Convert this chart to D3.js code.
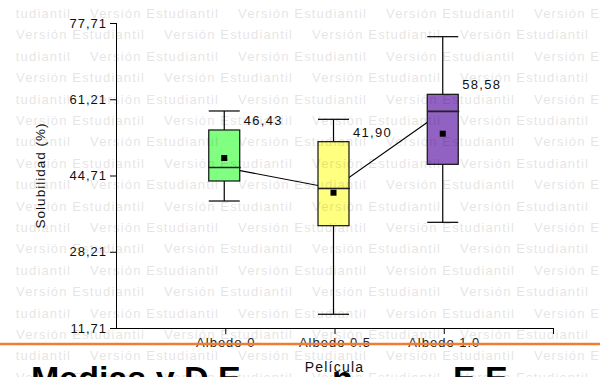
<!DOCTYPE html>
<html>
<head>
<meta charset="utf-8">
<script src="https://d3js.org/d3.v7.min.js"></script>
<style>
  body { margin: 0; background: #fff; }
  text { font-family: Arial, "Liberation Sans", sans-serif; }
</style>
</head>
<body>
<div id="chart"></div>
<script>
var width = 600, height = 377;

// data
var categories = ["Albedo 0", "Albedo 0.5", "Albedo 1.0"];
var medians = [46.43, 41.90, 58.58];
var q1 = [43.52, 33.85, 47.13];
var q3 = [54.56, 52.03, 62.28];
var whiskerLow = [39.19, 14.68, 34.58];
var whiskerHigh = [58.67, 56.87, 74.75];
var means = [48.50, 40.99, 53.76];
var yTicks = [11.71, 28.21, 44.71, 61.21, 77.71];
var boxColors = ["#80ff80", "#ffff80", "#9162c2"];

var svg = d3.select("#chart").append("svg")
  .attr("width", width).attr("height", height);

var y = d3.scaleLinear().domain([11.71, 77.71]).range([328, 23]);
var x = d3.scaleLinear().domain([0, 4]).range([116, 553]);
var boxW = 31;

var boxes = categories.map(function(c, i) {
  return { name: c, pos: i + 1, med: medians[i], lo: q1[i], hi: q3[i],
           wl: whiskerLow[i], wh: whiskerHigh[i], mean: means[i], color: boxColors[i] };
});

// y axis
var yAxis = svg.append("g").attr("transform", "translate(116,0)")
  .call(d3.axisLeft(y).tickValues(yTicks).tickSize(6).tickPadding(3)
    .tickFormat(function(d) { return d.toFixed(2).replace(".", ","); }));
yAxis.select(".domain").attr("d", "M0.5," + y(11.71) + "V" + y(77.71)).attr("stroke", "#000");
yAxis.selectAll(".tick line").attr("stroke", "#000");
yAxis.selectAll(".tick text").attr("font-size", 13).attr("fill", "#111")
  .attr("letter-spacing", 1).attr("font-family", "Arial, 'Liberation Sans', sans-serif");

// x axis
var xAxis = svg.append("g").attr("transform", "translate(0,328)")
  .call(d3.axisBottom(x).tickValues([1, 2, 3, 4]).tickSize(6).tickPadding(4)
    .tickFormat(function(d) { return categories[d - 1] || ""; }));
xAxis.select(".domain").attr("d", "M116,0.5H553").attr("stroke", "#000");
xAxis.selectAll(".tick line").attr("stroke", "#000");
xAxis.selectAll(".tick text").attr("font-size", 13).attr("fill", "#222")
  .attr("letter-spacing", 1).attr("font-family", "Arial, 'Liberation Sans', sans-serif");

// axis titles
svg.append("text")
  .attr("transform", "translate(45," + ((y(11.71) + y(77.71)) / 2) + ") rotate(-90)")
  .attr("text-anchor", "middle").attr("font-size", 13.5).attr("letter-spacing", 1)
  .attr("fill", "#111").text("Solubilidad (%)");

svg.append("text").attr("x", x(2)).attr("y", 372)
  .attr("text-anchor", "middle").attr("font-size", 14).attr("letter-spacing", 1.2)
  .attr("fill", "#111").text("Película");

// line joining medians
svg.append("path")
  .attr("d", d3.line().x(function(d) { return x(d.pos) - 1; }).y(function(d) { return y(d.med); })(boxes))
  .attr("fill", "none").attr("stroke", "#000").attr("stroke-width", 1.2);

var g = svg.selectAll(".box").data(boxes).enter().append("g").attr("class", "box");

// whiskers
g.append("line")
  .attr("x1", function(d) { return x(d.pos) - 1; }).attr("x2", function(d) { return x(d.pos) - 1; })
  .attr("y1", function(d) { return y(d.wh); }).attr("y2", function(d) { return y(d.wl); })
  .attr("stroke", "#000").attr("stroke-width", 1.2);
g.append("line")
  .attr("x1", function(d) { return x(d.pos) - 1 - boxW / 2; }).attr("x2", function(d) { return x(d.pos) - 1 + boxW / 2; })
  .attr("y1", function(d) { return y(d.wh); }).attr("y2", function(d) { return y(d.wh); })
  .attr("stroke", "#000").attr("stroke-width", 1.2);
g.append("line")
  .attr("x1", function(d) { return x(d.pos) - 1 - boxW / 2; }).attr("x2", function(d) { return x(d.pos) - 1 + boxW / 2; })
  .attr("y1", function(d) { return y(d.wl); }).attr("y2", function(d) { return y(d.wl); })
  .attr("stroke", "#000").attr("stroke-width", 1.2);

// boxes
g.append("rect")
  .attr("x", function(d) { return x(d.pos) - 1 - boxW / 2; })
  .attr("y", function(d) { return y(d.hi); })
  .attr("width", boxW)
  .attr("height", function(d) { return y(d.lo) - y(d.hi); })
  .attr("fill", function(d) { return d.color; })
  .attr("stroke", "#111").attr("stroke-width", 1.2);

// medians
g.append("line")
  .attr("x1", function(d) { return x(d.pos) - 1 - boxW / 2; }).attr("x2", function(d) { return x(d.pos) - 1 + boxW / 2 + 1; })
  .attr("y1", function(d) { return y(d.med); }).attr("y2", function(d) { return y(d.med); })
  .attr("stroke", "#222").attr("stroke-width", 1.6);

// means
g.append("rect")
  .attr("x", function(d) { return x(d.pos) - 4; })
  .attr("y", function(d) { return y(d.mean) - 3; })
  .attr("width", 6).attr("height", 6).attr("fill", "#000");

// median value labels
g.append("text")
  .attr("x", function(d) { return x(d.pos) - 1 + boxW / 2 + 4; })
  .attr("y", function(d) { return y(d.hi) - 5; })
  .attr("font-size", 13).attr("letter-spacing", 1.3).attr("fill", "#111")
  .text(function(d) { return d.med.toFixed(2).replace(".", ","); });

// bottom caption, cut by the frame
var capY = 390;
svg.append("text").attr("x", 31).attr("y", capY).attr("font-size", 34).attr("font-weight", "bold")
  .attr("fill", "#000").text("Medias y D.E.");
svg.append("text").attr("x", 332).attr("y", capY).attr("font-size", 34).attr("font-weight", "bold")
  .attr("fill", "#000").text("n");
svg.append("text").attr("x", 453).attr("y", capY).attr("font-size", 34).attr("font-weight", "bold")
  .attr("fill", "#000").text("E.E");

// orange rule
svg.append("line").attr("x1", 0).attr("x2", width).attr("y1", 344).attr("y2", 344)
  .attr("stroke", "#ef7d31").attr("stroke-width", 2.5);

// watermark
svg.append("clipPath").attr("id", "wm").append("rect")
  .attr("x", 15).attr("y", 0).attr("width", width - 15).attr("height", height);
var wm = svg.append("g").attr("clip-path", "url(#wm)").attr("opacity", 0.1);
var rows = d3.range(18), cols = d3.range(-1, 5);
rows.forEach(function(r) {
  var off = r % 2 === 0 ? 90 : 16;
  cols.forEach(function(c) {
    wm.append("text")
      .attr("x", off + c * 148).attr("y", 13.5 + r * 21.4 + 4.5)
      .attr("font-size", 13).attr("textLength", 128).attr("lengthAdjust", "spacing")
      .attr("fill", "#000").text("Versión Estudiantil");
  });
});
</script>
</body>
</html>
